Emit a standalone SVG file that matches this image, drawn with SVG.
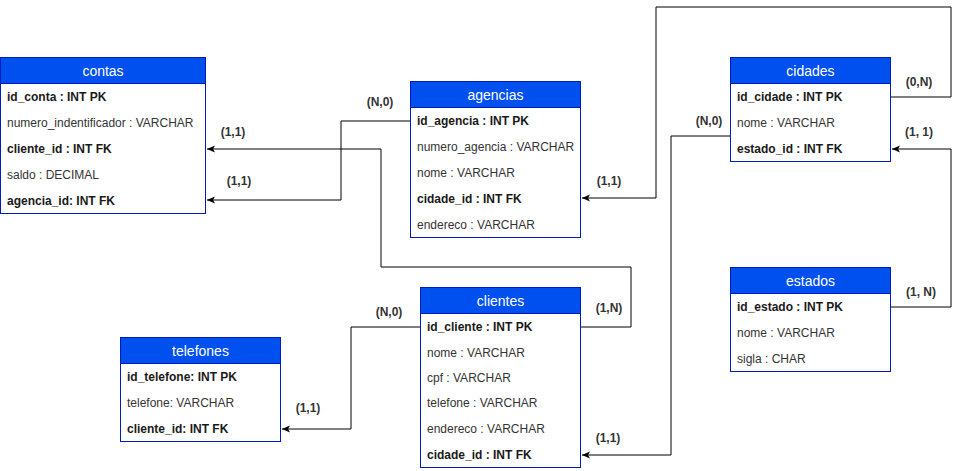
<svg xmlns="http://www.w3.org/2000/svg" width="959" height="471" viewBox="0 0 959 471">
<style>
.box{fill:#ffffff;stroke:#001DBC;stroke-width:1}
.hdr{fill:#0050EF;stroke:#001DBC;stroke-width:1}
.ttl{font-family:"Liberation Sans",Arial,sans-serif;font-size:14px;fill:#ffffff;text-anchor:middle}
.r{font-family:"Liberation Sans",Arial,sans-serif;font-size:12px;fill:#333333}
.b{font-family:"Liberation Sans",Arial,sans-serif;font-size:12px;fill:#1a1a1a;font-weight:bold}
.lbl{font-family:"Liberation Sans",Arial,sans-serif;font-size:12px;fill:#333333;font-weight:bold;text-anchor:middle}
.edge{fill:none;stroke:#000000;stroke-width:1;marker-end:url(#arr)}
</style>
<defs>
<marker id="arr" markerUnits="userSpaceOnUse" markerWidth="10" markerHeight="10" refX="8" refY="4" orient="auto">
<path d="M0,0.5 L8,4 L0,7.5 L2,4 Z" fill="#000000"/>
</marker>
</defs>
<rect width="959" height="471" fill="#ffffff"/>
<g id="connectors">
<path class="edge" d="M411,121 H341 V200 H207"/>
<path class="edge" d="M581,327 H631 V267 H381 V149 H207"/>
<path class="edge" d="M421,327 H351 V429 H282"/>
<path class="edge" d="M891,97 H951 V7 H656 V198 H582"/>
<path class="edge" d="M731,136 H671 V455 H582"/>
<path class="edge" d="M891,307 H951 V149 H892"/>
<text class="lbl" x="380" y="106">(N,0)</text>
<text class="lbl" x="233" y="136">(1,1)</text>
<text class="lbl" x="239" y="185">(1,1)</text>
<text class="lbl" x="609" y="312">(1,N)</text>
<text class="lbl" x="389" y="316">(N,0)</text>
<text class="lbl" x="308" y="412">(1,1)</text>
<text class="lbl" x="919" y="86">(0,N)</text>
<text class="lbl" x="609" y="185">(1,1)</text>
<text class="lbl" x="709" y="125">(N,0)</text>
<text class="lbl" x="608" y="442">(1,1)</text>
<text class="lbl" x="919" y="136">(1, 1)</text>
<text class="lbl" x="921" y="296">(1, N)</text>
</g>
<g id="contas">
<rect class="box" x="0.5" y="57.5" width="205" height="156"/>
<rect class="hdr" x="0.5" y="57.5" width="205" height="26"/>
<text class="ttl" x="103" y="75.5">contas</text>
<text class="b" x="7" y="101">id_conta : INT PK</text>
<text class="r" x="7" y="127">numero_indentificador : VARCHAR</text>
<text class="b" x="7" y="153">cliente_id : INT FK</text>
<text class="r" x="7" y="179">saldo : DECIMAL</text>
<text class="b" x="7" y="205">agencia_id: INT FK</text>
</g>
<g id="agencias">
<rect class="box" x="410.5" y="81.5" width="170" height="156"/>
<rect class="hdr" x="410.5" y="81.5" width="170" height="26"/>
<text class="ttl" x="495.5" y="99.5">agencias</text>
<text class="b" x="417" y="125">id_agencia : INT PK</text>
<text class="r" x="417" y="151">numero_agencia : VARCHAR</text>
<text class="r" x="417" y="177">nome : VARCHAR</text>
<text class="b" x="417" y="203">cidade_id : INT FK</text>
<text class="r" x="417" y="229">endereco : VARCHAR</text>
</g>
<g id="cidades">
<rect class="box" x="730.5" y="57.5" width="160" height="104"/>
<rect class="hdr" x="730.5" y="57.5" width="160" height="26"/>
<text class="ttl" x="810.5" y="75.5">cidades</text>
<text class="b" x="737" y="101">id_cidade : INT PK</text>
<text class="r" x="737" y="127">nome : VARCHAR</text>
<text class="b" x="737" y="153">estado_id : INT FK</text>
</g>
<g id="estados">
<rect class="box" x="730.5" y="267.5" width="160" height="104"/>
<rect class="hdr" x="730.5" y="267.5" width="160" height="26"/>
<text class="ttl" x="810.5" y="285.5">estados</text>
<text class="b" x="737" y="311">id_estado : INT PK</text>
<text class="r" x="737" y="337">nome : VARCHAR</text>
<text class="r" x="737" y="363">sigla : CHAR</text>
</g>
<g id="clientes">
<rect class="box" x="420.5" y="287.5" width="160" height="180"/>
<rect class="hdr" x="420.5" y="287.5" width="160" height="26"/>
<text class="ttl" x="500.5" y="305.5">clientes</text>
<text class="b" x="427" y="331">id_cliente : INT PK</text>
<text class="r" x="427" y="357">nome : VARCHAR</text>
<text class="r" x="427" y="382">cpf : VARCHAR</text>
<text class="r" x="427" y="407">telefone : VARCHAR</text>
<text class="r" x="427" y="433">endereco : VARCHAR</text>
<text class="b" x="427" y="459">cidade_id : INT FK</text>
</g>
<g id="telefones">
<rect class="box" x="120.5" y="337.5" width="160" height="104"/>
<rect class="hdr" x="120.5" y="337.5" width="160" height="26"/>
<text class="ttl" x="200.5" y="355.5">telefones</text>
<text class="b" x="127" y="381">id_telefone: INT PK</text>
<text class="r" x="127" y="407">telefone: VARCHAR</text>
<text class="b" x="127" y="433">cliente_id: INT FK</text>
</g>
</svg>
